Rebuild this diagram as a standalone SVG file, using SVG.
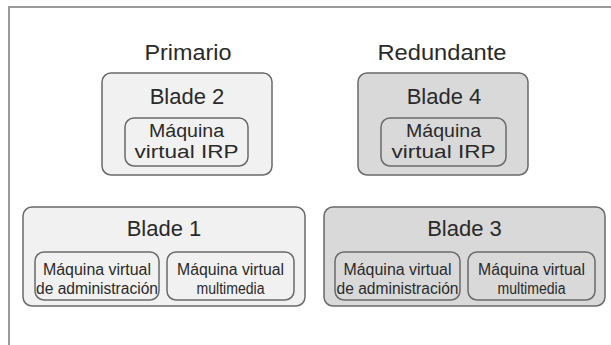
<svg xmlns="http://www.w3.org/2000/svg" width="611" height="345" viewBox="0 0 611 345">
<style>
text{font-family:"Liberation Sans",Arial,sans-serif;fill:#2a2a2a;text-anchor:middle}
.h{font-size:22px}
.b{font-size:22px}
.s{font-size:18px}
.t{font-size:16px}
.light{fill:#f1f1f1;stroke:#6a6a6a;stroke-width:1.5}
.dark{fill:#d9d9d9;stroke:#6a6a6a;stroke-width:1.5}
.frame{fill:none;stroke:#9a9a9a;stroke-width:2}
</style>
<rect width="611" height="345" fill="#ffffff"/>
<path class="frame" d="M9,345 V7 H611"/>
<text class="h" x="188" y="60" textLength="87" lengthAdjust="spacingAndGlyphs">Primario</text>
<text class="h" x="442" y="60" textLength="129" lengthAdjust="spacingAndGlyphs">Redundante</text>
<g id="blade2">
<rect class="light" x="102" y="73" width="170" height="102" rx="9"/>
<text class="b" x="187" y="104">Blade 2</text>
<g id="blade2-irp">
<rect class="light" x="125" y="118" width="123" height="48" rx="9"/>
<text class="s" x="186.5" y="137" textLength="75" lengthAdjust="spacingAndGlyphs">Máquina</text>
<text class="s" x="186.5" y="158" textLength="104" lengthAdjust="spacingAndGlyphs">virtual IRP</text>
</g>
</g>
<g id="blade4">
<rect class="dark" x="358" y="73" width="170" height="102" rx="9"/>
<text class="b" x="444" y="104">Blade 4</text>
<g id="blade4-irp">
<rect class="dark" x="381" y="118" width="125" height="48" rx="9"/>
<text class="s" x="443.5" y="137" textLength="75" lengthAdjust="spacingAndGlyphs">Máquina</text>
<text class="s" x="443.5" y="158" textLength="104" lengthAdjust="spacingAndGlyphs">virtual IRP</text>
</g>
</g>
<g id="blade1">
<rect class="light" x="23" y="207" width="282" height="99" rx="9"/>
<text class="b" x="164" y="236">Blade 1</text>
<g id="blade1-admin">
<rect class="light" x="35" y="252" width="124" height="48" rx="9"/>
<text class="t" x="97" y="275" textLength="108" lengthAdjust="spacingAndGlyphs">Máquina virtual</text>
<text class="t" x="97" y="294" textLength="122" lengthAdjust="spacingAndGlyphs">de administración</text>
</g>
<g id="blade1-media">
<rect class="light" x="167" y="252" width="127" height="48" rx="9"/>
<text class="t" x="230.5" y="275" textLength="107" lengthAdjust="spacingAndGlyphs">Máquina virtual</text>
<text class="t" x="230.5" y="294" textLength="68" lengthAdjust="spacingAndGlyphs">multimedia</text>
</g>
</g>
<g id="blade3">
<rect class="dark" x="324" y="207" width="281" height="99" rx="9"/>
<text class="b" x="464.5" y="236">Blade 3</text>
<g id="blade3-admin">
<rect class="dark" x="335" y="252" width="125" height="48" rx="9"/>
<text class="t" x="397.5" y="275" textLength="108" lengthAdjust="spacingAndGlyphs">Máquina virtual</text>
<text class="t" x="397.5" y="294" textLength="122" lengthAdjust="spacingAndGlyphs">de administración</text>
</g>
<g id="blade3-media">
<rect class="dark" x="468" y="252" width="127" height="48" rx="9"/>
<text class="t" x="531.5" y="275" textLength="107" lengthAdjust="spacingAndGlyphs">Máquina virtual</text>
<text class="t" x="531.5" y="294" textLength="68" lengthAdjust="spacingAndGlyphs">multimedia</text>
</g>
</g>
<g id="connectors"/>
</svg>
